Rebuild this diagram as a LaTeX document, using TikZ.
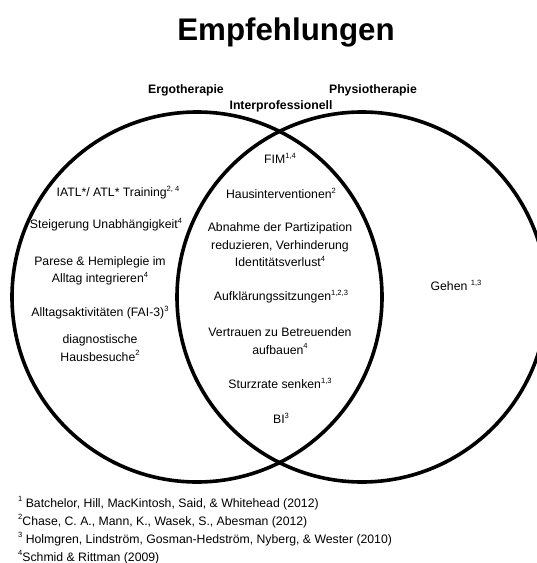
\documentclass[tikz,border=0pt]{standalone}
\usepackage{fontspec}
\setmainfont{Liberation Sans}
\newcommand\fnum[1]{\raisebox{0.42em}{\fontsize{7.6}{8}\selectfont #1}}
\begin{document}
\begin{tikzpicture}[x=1bp,y=-1bp,
  txt/.style={font=\fontsize{12.3}{17.5}\selectfont, align=center, inner sep=0pt},
  head/.style={font=\fontsize{12.3}{15}\selectfont\bfseries, inner sep=0pt},
  ref/.style={font=\fontsize{12.3}{15}\selectfont, anchor=base west, inner sep=0pt},
  ring/.style={circle, draw=black, line width=3.6bp, minimum size=370bp, inner sep=0pt}]
\useasboundingbox (0,0) rectangle (537,563);
\begin{scope}
  \clip (0,0) rectangle (537,563);
  % the two overlapping fields
  \node[ring] (ergo) at (197,297) {};
  \node[ring] (physio) at (362,297) {};
\end{scope}

% title and field headings
\node[font=\fontsize{31.4}{36}\selectfont\bfseries, inner sep=0pt] (title) at (286,32) {Empfehlungen};
\node[head] (hergo) at (186,90) {Ergotherapie};
\node[head] (hphysio) at (373,90) {Physiotherapie};
\node[head] (hinter) at (281,106) {Interprofessionell};

% occupational therapy
\node[txt] (e1) at (118,193) {IATL*/ ATL* Training\fnum{2, 4}};
\node[txt] (e2) at (106,225) {Steigerung Unabhängigkeit\fnum{4}};
\node[txt] (e3) at (100,271) {Parese \& Hemiplegie im\\Alltag integrieren\fnum{4}};
\node[txt] (e4) at (100,313) {Alltagsaktivitäten (FAI-3)\fnum{3}};
\node[txt] (e5) at (100,348) {diagnostische\\Hausbesuche\fnum{2}};

% shared recommendations
\node[txt] (i1) at (280,158) {FIM\fnum{1,4}};
\node[txt] (i2) at (281,193) {Hausinterventionen\fnum{2}};
\node[txt] (i3) at (280,245) {Abnahme der Partizipation\\reduzieren, Verhinderung\\Identitätsverlust\fnum{4}};
\node[txt] (i4) at (281,297) {Aufklärungssitzungen\fnum{1,2,3}};
\node[txt] (i5) at (280,341) {Vertrauen zu Betreuenden\\aufbauen\fnum{4}};
\node[txt] (i6) at (280,383) {Sturzrate senken\fnum{1,3}};
\node[txt] (i7) at (281,418) {BI\fnum{3}};

% physiotherapy
\node[txt] (p1) at (456,285) {Gehen \fnum{1,3}};

% references
\node[ref] (r1) at (18,507) {\fnum{1} Batchelor, Hill, MacKintosh, Said, \& Whitehead (2012)};
\node[ref] (r2) at (18,525) {\fnum{2}Chase, C. A., Mann, K., Wasek, S., Abesman (2012)};
\node[ref] (r3) at (18,543) {\fnum{3} Holmgren, Lindström, Gosman-Hedström, Nyberg, \& Wester (2010)};
\node[ref] (r4) at (18,561) {\fnum{4}Schmid \& Rittman (2009)};
\end{tikzpicture}
\end{document}
